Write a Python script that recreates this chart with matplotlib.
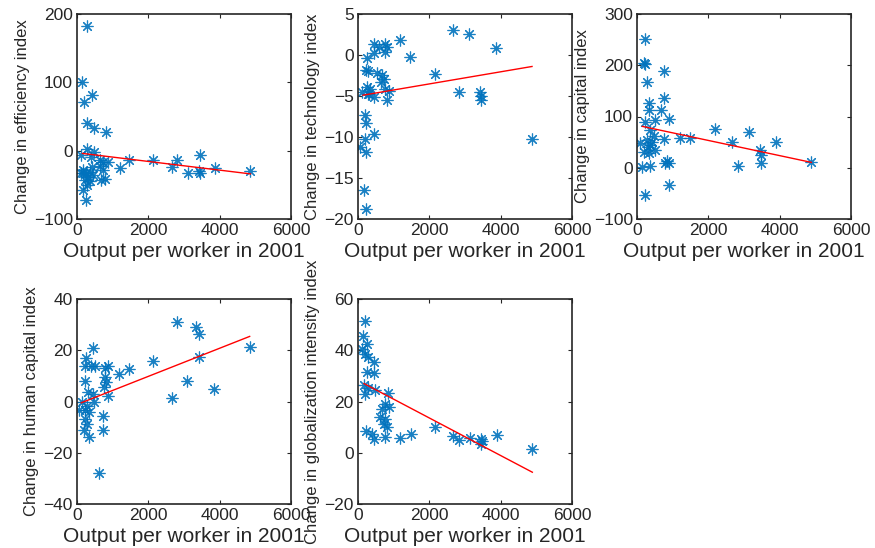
import matplotlib
matplotlib.use("Agg")
import matplotlib.pyplot as plt

plt.rcParams['font.family'] = ['Liberation Sans', 'DejaVu Sans']

# ---------------- data ----------------
x_ticks = [0, 2000, 4000, 6000]
x_label = "Output per worker in 2001"

# Panel 1: efficiency
x1 = [282, 141, 423, 197, 291, 470, 808, 282, 470, 122,
      169, 263, 357, 216, 310, 451, 357, 169, 263, 638, 732, 873, 638, 732,
      779, 685, 404, 122, 169, 420, 290,
      1200, 1465, 2141, 2657, 2817, 3099, 3408, 3437, 3450, 3878, 4864]
y1 = [183, 101, 81, 71, 41, 33, 27, 3, -2, -7,
      -33, -33, -31, -43, -38, -35, -45, -57, -72, -14, -16, -16, -23, -28,
      -42, -43, -9, -33, -28, -24, -50,
      -25, -13, -14, -24, -13, -32, -30, -6, -33, -25, -30]
fit1_x = [150, 4864]
fit1_y = [-4, -34]

# Panel 2: technology
x2 = [440, 766, 600, 800, 440, 766, 252, 224, 290, 533, 673, 720, 640, 252,
      766, 112, 280, 340, 440, 813, 206, 224, 440, 206, 65, 224, 159, 224,
      320, 880,
      1187, 1467, 2150, 2663, 2822, 3121, 3411, 3449, 3449, 3878, 4879]
y2 = [1.3, 1.3, 1.0, 1.0, 0.2, 0.4, -0.4, -1.8, -2.0, -2.2, -2.4, -2.9, -3.3, -3.9,
      -4.1, -4.5, -4.7, -4.2, -5.1, -5.5, -7.3, -8.3, -9.6, -10.2, -11.2, -11.8, -16.5, -18.8,
      -4.8, -4.4,
      1.8, -0.2, -2.3, 3.1, -4.5, 2.6, -4.5, -5.05, -5.5, 0.8, -10.3]
fit2_x = [140, 4879]
fit2_y = [-4.9, -1.4]

# Panel 3: capital
x3 = [234, 187, 234, 748, 280, 748, 327, 327, 682, 888, 234, 514, 374, 748,
      467, 280, 374, 187, 514, 327, 93, 794, 888, 841, 374, 140, 888, 234,
      420, 300,
      1215, 1495, 2178, 2673, 2832, 3140, 3439, 3467, 3467, 3888, 4888]
y3 = [251, 204, 203, 188, 168, 136, 126, 113, 113, 96, 90, 93, 74, 57,
      61, 54, 44, 31, 35, 28, 48, 10, 9, 13, 3, 2, -34, -53,
      50, 40,
      58, 58, 76, 50, 4, 70, 35, 25, 9, 51, 12]
fit3_x = [150, 4888]
fit3_y = [80.7, 10.5]

# Panel 4: human capital
x4 = [442, 254, 235, 498, 873, 798, 216, 826, 751, 310, 442, 873, 141, 282,
      470, 47, 235, 330, 216, 723, 282, 187, 723, 329, 629, 400, 790,
      1178, 1458, 2131, 2664, 2804, 3084, 3346, 3421, 3421, 3832, 4841]
y4 = [21, 17, 14, 14, 14, 9.5, 8, 7.6, 5.6, 3.7, 3.1, 2, -0.3, -1.6,
      -0.3, -3.5, -3.5, -4.2, -6.8, -5.5, -8.7, -11, -11, -14, -28, 14, 13,
      10.7, 12.7, 15.8, 1.3, 31.2, 8.1, 29, 26.4, 17.5, 4.7, 21.4]
fit4_x = [121, 4841]
fit4_y = [-0.5, 25.4]

# Panel 5: globalization intensity
x5 = [206, 131, 252, 112, 206, 280, 440, 252, 440, 159, 290, 467, 206, 841,
      766, 673, 860, 626, 720, 813, 766, 224, 393, 440, 766,
      1187, 1477, 2150, 2673, 2832, 3131, 3439, 3467, 3439, 3907, 4888]
y5 = [51.5, 45.5, 42.6, 40.3, 38.7, 37.4, 35.4, 31.5, 31.1, 26.3, 25.4, 24.6, 23, 23.3,
      19.1, 17.2, 17.8, 14.1, 11.3, 10, 13.2, 8.4, 7.3, 5.4, 6.3,
      5.8, 7.2, 10, 6.5, 4.8, 5.9, 5.5, 4.6, 3.5, 6.8, 1.3]
fit5_x = [168, 4888]
fit5_y = [27, -7.6]

panels = [
    (x1, y1, fit1_x, fit1_y, "Change in efficiency index", [-100, 0, 100, 200]),
    (x2, y2, fit2_x, fit2_y, "Change in technology index", [-20, -15, -10, -5, 0, 5]),
    (x3, y3, fit3_x, fit3_y, "Change in capital index", [-100, 0, 100, 200, 300]),
    (x4, y4, fit4_x, fit4_y, "Change in human capital index", [-40, -20, 0, 20, 40]),
    (x5, y5, fit5_x, fit5_y, "Change in globalization intensity index", [-20, 0, 20, 40, 60]),
]

# ---------------- layout ----------------
W, H = 875, 548
fig = plt.figure(figsize=(W / 100, H / 100), dpi=100)
col_left = [77, 358, 637]
row_top = [14, 299]
ax_w, ax_h = 214, 205
dark = '#262626'
blue = '#0072BD'
marker = (8, 2, 0)

for i, (xs, ys, fx, fy, ylab, yt) in enumerate(panels):
    r, c = divmod(i, 3)
    l = col_left[c]
    t = row_top[r]
    ax = fig.add_axes([l / W, 1 - (t + ax_h) / H, ax_w / W, ax_h / H])
    ax.plot(xs, ys, linestyle='none', marker=marker, markersize=8.5,
            markeredgewidth=0.85, color=blue, alpha=0.9)
    ax.plot(fx, fy, color='red', linewidth=1.0)
    ax.set_xlim(0, 6000)
    ax.set_ylim(yt[0], yt[-1])
    ax.set_xticks(x_ticks)
    ax.set_yticks(yt)
    ax.tick_params(direction='in', length=3, width=0.8, top=True, right=True,
                   colors=dark, labelsize=12.5, pad=3)
    for s in ax.spines.values():
        s.set_color(dark)
        s.set_linewidth(1.2)
    ax.set_xlabel(x_label, fontsize=15, color=dark, labelpad=3)
    ax.set_ylabel(ylab, fontsize=12, color=dark, labelpad=3)

fig.savefig("out.png", dpi=100)
